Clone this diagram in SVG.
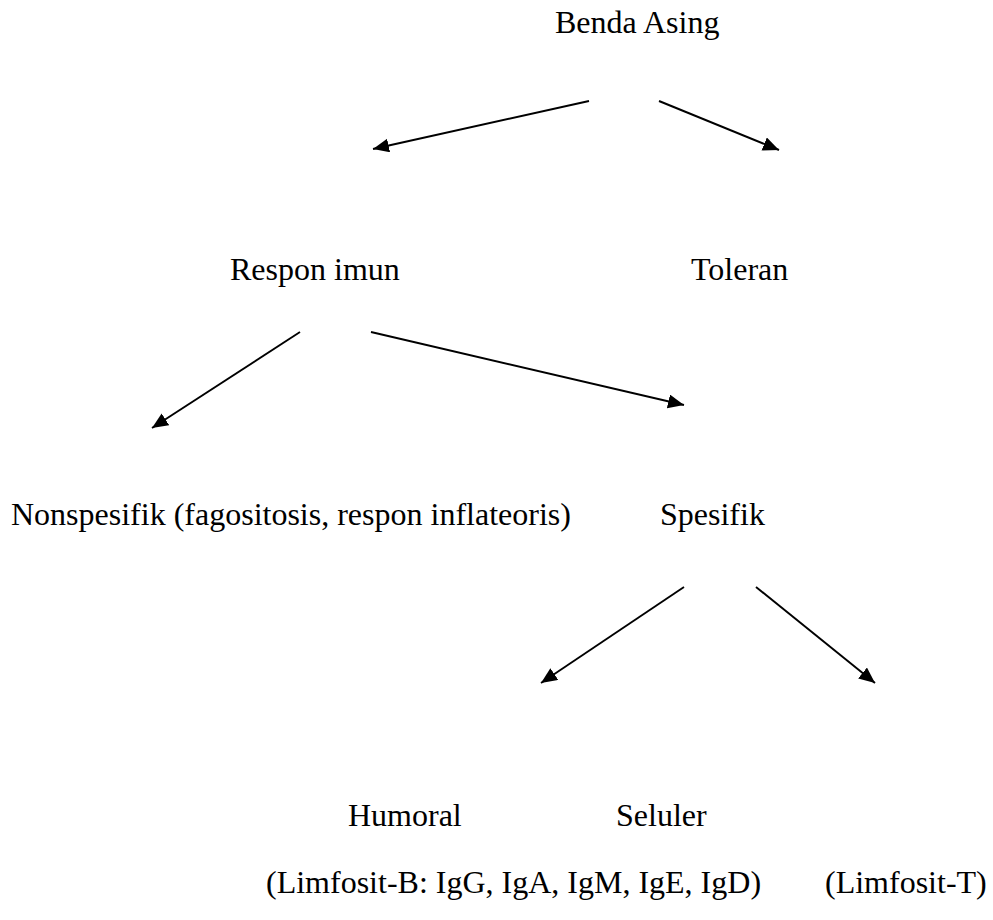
<svg xmlns="http://www.w3.org/2000/svg" width="993" height="920" viewBox="0 0 993 920">
<style>
text{font-family:"Liberation Serif","Times New Roman",serif;font-size:32px;fill:#000}
.c line{stroke:#000;stroke-width:1.9;marker-end:url(#ah)}
</style>
<defs>
<marker id="ah" markerUnits="userSpaceOnUse" markerWidth="18" markerHeight="15" refX="16" refY="7" orient="auto">
<path d="M0,0 L16,7 L0,14 z" fill="#000"/>
</marker>
</defs>
<rect width="993" height="920" fill="#fff"/>
<g id="benda"><text x="555" y="33">Benda Asing</text></g>
<g id="respon"><text x="230" y="280">Respon imun</text></g>
<g id="toleran"><text x="691" y="280">Toleran</text></g>
<g id="nonspesifik"><text x="11" y="525">Nonspesifik (fagositosis, respon inflateoris)</text></g>
<g id="spesifik"><text x="660" y="525">Spesifik</text></g>
<g id="humoral"><text x="348" y="826">Humoral</text><text x="266" y="893">(Limfosit-B: IgG, IgA, IgM, IgE, IgD)</text></g>
<g id="seluler"><text x="616" y="826">Seluler</text><text x="825" y="893">(Limfosit-T)</text></g>
<g class="c" id="connectors">
<line x1="589" y1="101" x2="373" y2="149"/>
<line x1="659" y1="101" x2="779" y2="150"/>
<line x1="300" y1="332" x2="152" y2="428"/>
<line x1="371" y1="332" x2="684" y2="405"/>
<line x1="684" y1="587" x2="541" y2="683"/>
<line x1="756" y1="587" x2="875" y2="683"/>
</g>
</svg>
